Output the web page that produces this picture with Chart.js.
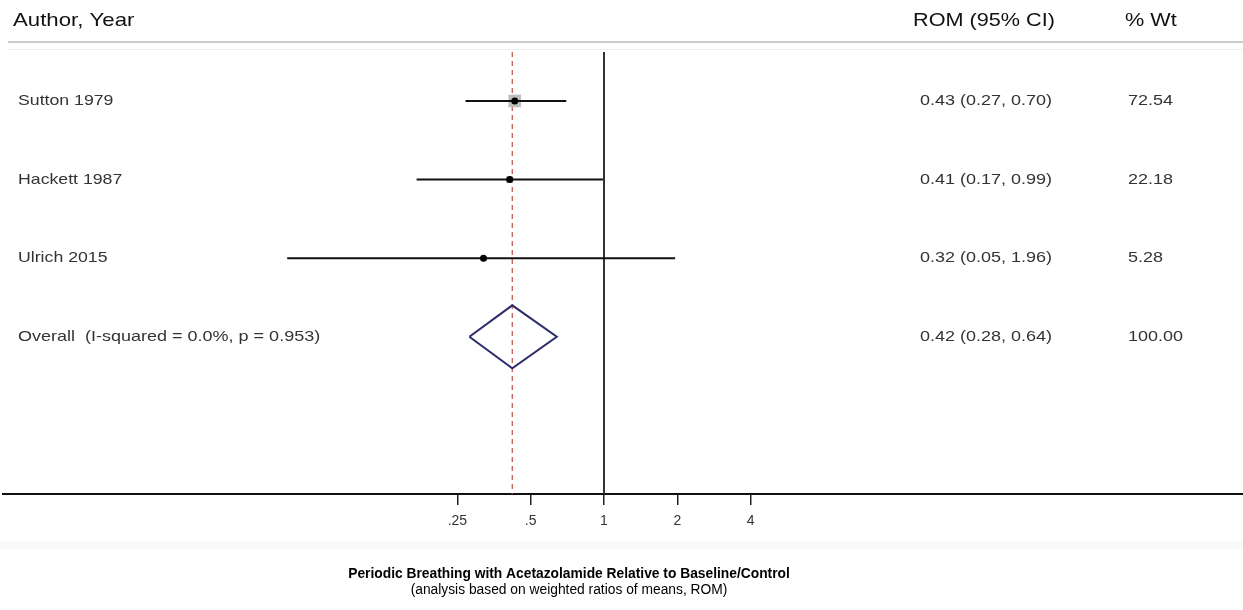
<!DOCTYPE html>
<html>
<head>
<meta charset="utf-8">
<script src="https://cdn.jsdelivr.net/npm/chart.js@4.4.1/dist/chart.umd.min.js"></script>
<style>
  html, body { margin: 0; padding: 0; background: #fff; }
  #wrap { width: 1243px; height: 610px; position: relative; }
</style>
</head>
<body>
<div id="wrap"><canvas id="forest"></canvas></div>
<script>
// study rows
const studies = ["Sutton 1979", "Hackett 1987", "Ulrich 2015"];
const rom = [0.43, 0.41, 0.32];
const lower = [0.27, 0.17, 0.05];
const upper = [0.70, 0.99, 1.96];
const weights = [72.54, 22.18, 5.28];

// pooled estimate
const overallLabel = "Overall  (I-squared = 0.0%, p = 0.953)";
const overallRom = 0.42;
const overallLower = 0.28;
const overallUpper = 0.64;
const overallWeight = 100.00;

// x axis
const xTicks = [0.25, 0.5, 1, 2, 4];
const xTickLabels = [".25", ".5", "1", "2", "4"];

const rowOf = i => i + 1;
const overallRow = studies.length + 1;
const yTop = 0.377, yBottom = 6;
const FONT = "'Liberation Sans', Arial, Helvetica, sans-serif";

function wideText(ctx, text, x, y, sx) {
    ctx.save();
    ctx.translate(x, y);
    ctx.scale(sx, 1);
    ctx.fillText(text, 0, 0);
    ctx.restore();
}

const tablePlugin = {
    id: "table",
    beforeDraw(chart) {
        const ctx = chart.ctx;
        ctx.save();
        ctx.fillStyle = "#fff";
        ctx.fillRect(0, 0, chart.width, chart.height);
        ctx.fillStyle = "#f9f9f9";
        ctx.fillRect(0, 542, chart.width, 7);
        ctx.restore();
    },
    afterDraw(chart) {
        const ctx = chart.ctx;
        const ys = chart.scales.y;
        ctx.save();

        // header
        ctx.textBaseline = "middle";
        ctx.textAlign = "left";
        ctx.fillStyle = "#111";
        ctx.font = "18.5px " + FONT;
        wideText(ctx, "Author, Year", 13, 21, 1.2);
        wideText(ctx, "ROM (95% CI)", 913, 21, 1.17);
        wideText(ctx, "% Wt", 1125, 21, 1.17);

        ctx.strokeStyle = "#cccccc";
        ctx.lineWidth = 2;
        ctx.beginPath(); ctx.moveTo(8, 42); ctx.lineTo(chart.width, 42); ctx.stroke();
        ctx.strokeStyle = "#efefef";
        ctx.lineWidth = 1;
        ctx.beginPath(); ctx.moveTo(8, 49.5); ctx.lineTo(chart.width, 49.5); ctx.stroke();

        // rows
        ctx.fillStyle = "#333";
        ctx.font = "15px " + FONT;
        studies.forEach((s, i) => {
            const y = ys.getPixelForValue(rowOf(i));
            wideText(ctx, s, 18, y, 1.18);
            wideText(ctx, `${rom[i].toFixed(2)} (${lower[i].toFixed(2)}, ${upper[i].toFixed(2)})`, 920, y, 1.2);
            wideText(ctx, weights[i].toFixed(2), 1128, y, 1.2);
        });
        const oy = ys.getPixelForValue(overallRow);
        wideText(ctx, overallLabel, 18, oy, 1.2);
        wideText(ctx, `${overallRom.toFixed(2)} (${overallLower.toFixed(2)}, ${overallUpper.toFixed(2)})`, 920, oy, 1.2);
        wideText(ctx, overallWeight.toFixed(2), 1128, oy, 1.2);

        // caption
        ctx.textAlign = "center";
        ctx.fillStyle = "#000";
        ctx.font = "bold 13.8px " + FONT;
        ctx.fillText("Periodic Breathing with Acetazolamide Relative to Baseline/Control", 569, 574);
        ctx.font = "13.8px " + FONT;
        ctx.fillText("(analysis based on weighted ratios of means, ROM)", 569, 590);
        ctx.restore();
    }
};

const ciSets = studies.map((s, i) => ({
    data: [{ x: lower[i], y: rowOf(i) }, { x: upper[i], y: rowOf(i) }],
    showLine: true,
    borderColor: "#111",
    borderWidth: 2,
    pointRadius: 0,
    order: 1
}));

new Chart(document.getElementById("forest"), {
    type: "scatter",
    data: {
        datasets: [
            {
                data: rom.map((v, i) => ({ x: v, y: rowOf(i) })),
                pointStyle: "circle",
                pointRadius: 3.5,
                backgroundColor: "#000",
                borderWidth: 0,
                order: 0
            },
            ...ciSets,
            {
                data: rom.map((v, i) => ({ x: v, y: rowOf(i) })),
                pointStyle: "rect",
                pointRadius: weights.map(w => 10.5 * Math.sqrt(w / 100)),
                backgroundColor: "#bdbdbd",
                borderWidth: 0,
                order: 2
            },
            {
                data: [
                    { x: overallLower, y: overallRow },
                    { x: overallRom, y: overallRow - 0.4 },
                    { x: overallUpper, y: overallRow },
                    { x: overallRom, y: overallRow + 0.4 },
                    { x: overallLower, y: overallRow }
                ],
                showLine: true,
                borderColor: "#2c2c6c",
                borderWidth: 2,
                pointRadius: 0,
                fill: false,
                order: 3
            },
            {
                data: [{ x: overallRom, y: yTop }, { x: overallRom, y: yBottom }],
                showLine: true,
                borderColor: "#c0504d",
                borderWidth: 1.2,
                borderDash: [5, 4],
                pointRadius: 0,
                order: 4
            },
            {
                data: [{ x: 1, y: yTop }, { x: 1, y: yBottom }],
                showLine: true,
                borderColor: "#333",
                borderWidth: 2,
                pointRadius: 0,
                order: 5
            }
        ]
    },
    options: {
        responsive: true,
        maintainAspectRatio: false,
        animation: false,
        layout: { autoPadding: false, padding: { top: 52, left: 3, right: 0, bottom: 0 } },
        plugins: {
            legend: { display: false },
            tooltip: { enabled: false },
            title: { display: false }
        },
        scales: {
            x: {
                type: "logarithmic",
                min: Math.pow(2, -601 / 73.3),
                max: Math.pow(2, 639 / 73.3),
                afterBuildTicks: scale => {
                    scale.ticks = xTicks.map(v => ({ value: v }));
                },
                afterFit: scale => {
                    scale.height = 116;
                    scale.paddingLeft = 0;
                    scale.paddingRight = 0;
                },
                ticks: {
                    autoSkip: false,
                    maxRotation: 0,
                    padding: 8,
                    color: "#333",
                    font: { family: FONT, size: 14 },
                    callback: (value, index) => xTickLabels[index]
                },
                grid: {
                    drawOnChartArea: false,
                    drawTicks: true,
                    tickLength: 11,
                    color: "#222",
                    lineWidth: 1.5
                },
                border: { display: true, color: "#111", width: 2 }
            },
            y: {
                type: "linear",
                display: false,
                reverse: true,
                min: yTop,
                max: yBottom
            }
        }
    },
    plugins: [tablePlugin]
});
</script>
</body>
</html>
